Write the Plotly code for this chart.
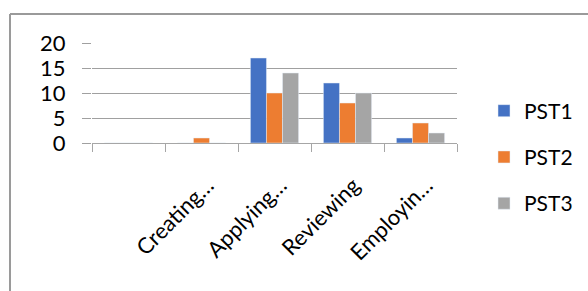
import plotly.graph_objects as go

categories = [" ", "Creating…", "Applying…", "Reviewing", "Employin…"]
pst1 = [0, 0, 17, 12, 1]
pst2 = [0, 1, 10, 8, 4]
pst3 = [0, 0, 14, 10, 2]
series_names = ["PST1", "PST2", "PST3"]
colors = ["#4472C4", "#ED7D31", "#A5A5A5"]
y_ticks = [0, 5, 10, 15, 20]

FONT = "Lato, Calibri, sans-serif"

fig = go.Figure()
for name, vals, col in zip(series_names, [pst1, pst2, pst3], colors):
    fig.add_trace(go.Bar(x=categories, y=vals, name=name, marker_color=col,
                         legendgroup=name))

L, R, T, B = 92, 131, 43, 148
W, H = 588, 291
pw, ph = W - L - R, H - T - B

def px(x):
    return (x - L) / pw

def py(y):
    return (H - B - y) / ph

fig.update_layout(
    width=W, height=H,
    margin=dict(l=L, r=R, t=T, b=B, pad=0, autoexpand=False),
    paper_bgcolor="white", plot_bgcolor="white",
    barmode="group", bargap=0.34, bargroupgap=0,
    font=dict(family=FONT, size=21, color="#000000"),
    showlegend=True,
    legend=dict(x=px(484), y=py(157), xanchor="left", yanchor="middle",
                font=dict(size=21), tracegroupgap=16, itemwidth=30,
                maxheight=400, bgcolor="rgba(0,0,0,0)"),
    shapes=[
        dict(type="line", xref="paper", yref="paper", x0=px(10), x1=px(600),
             y0=py(14), y1=py(14), line=dict(color="#9a9a9a", width=2)),
        dict(type="line", xref="paper", yref="paper", x0=px(10), x1=px(10),
             y0=py(14), y1=py(300), line=dict(color="#9a9a9a", width=2)),
    ],
)

fig.update_xaxes(
    type="category", showgrid=False, showline=True, linecolor="#a6a6a6", linewidth=1,
    ticks="outside", tickson="boundaries", ticklen=8, tickcolor="#a6a6a6",
    tickangle=-45, tickfont=dict(size=22, family=FONT), ticklabelstandoff=20,
    ticklabelshift=6, automargin=False,
)
fig.update_yaxes(
    range=[0, 20], tickvals=y_ticks, showgrid=True, gridcolor="#a0a0a0", gridwidth=1,
    showline=False, zeroline=False, ticks="outside", ticklen=9, tickcolor="#a0a0a0",
    tickfont=dict(size=22, family=FONT), ticklabelstandoff=12, automargin=False,
)

fig.write_html("out.html", config={"displayModeBar": False},
               post_script="document.body.style.margin='0';document.body.style.overflow='hidden';")
